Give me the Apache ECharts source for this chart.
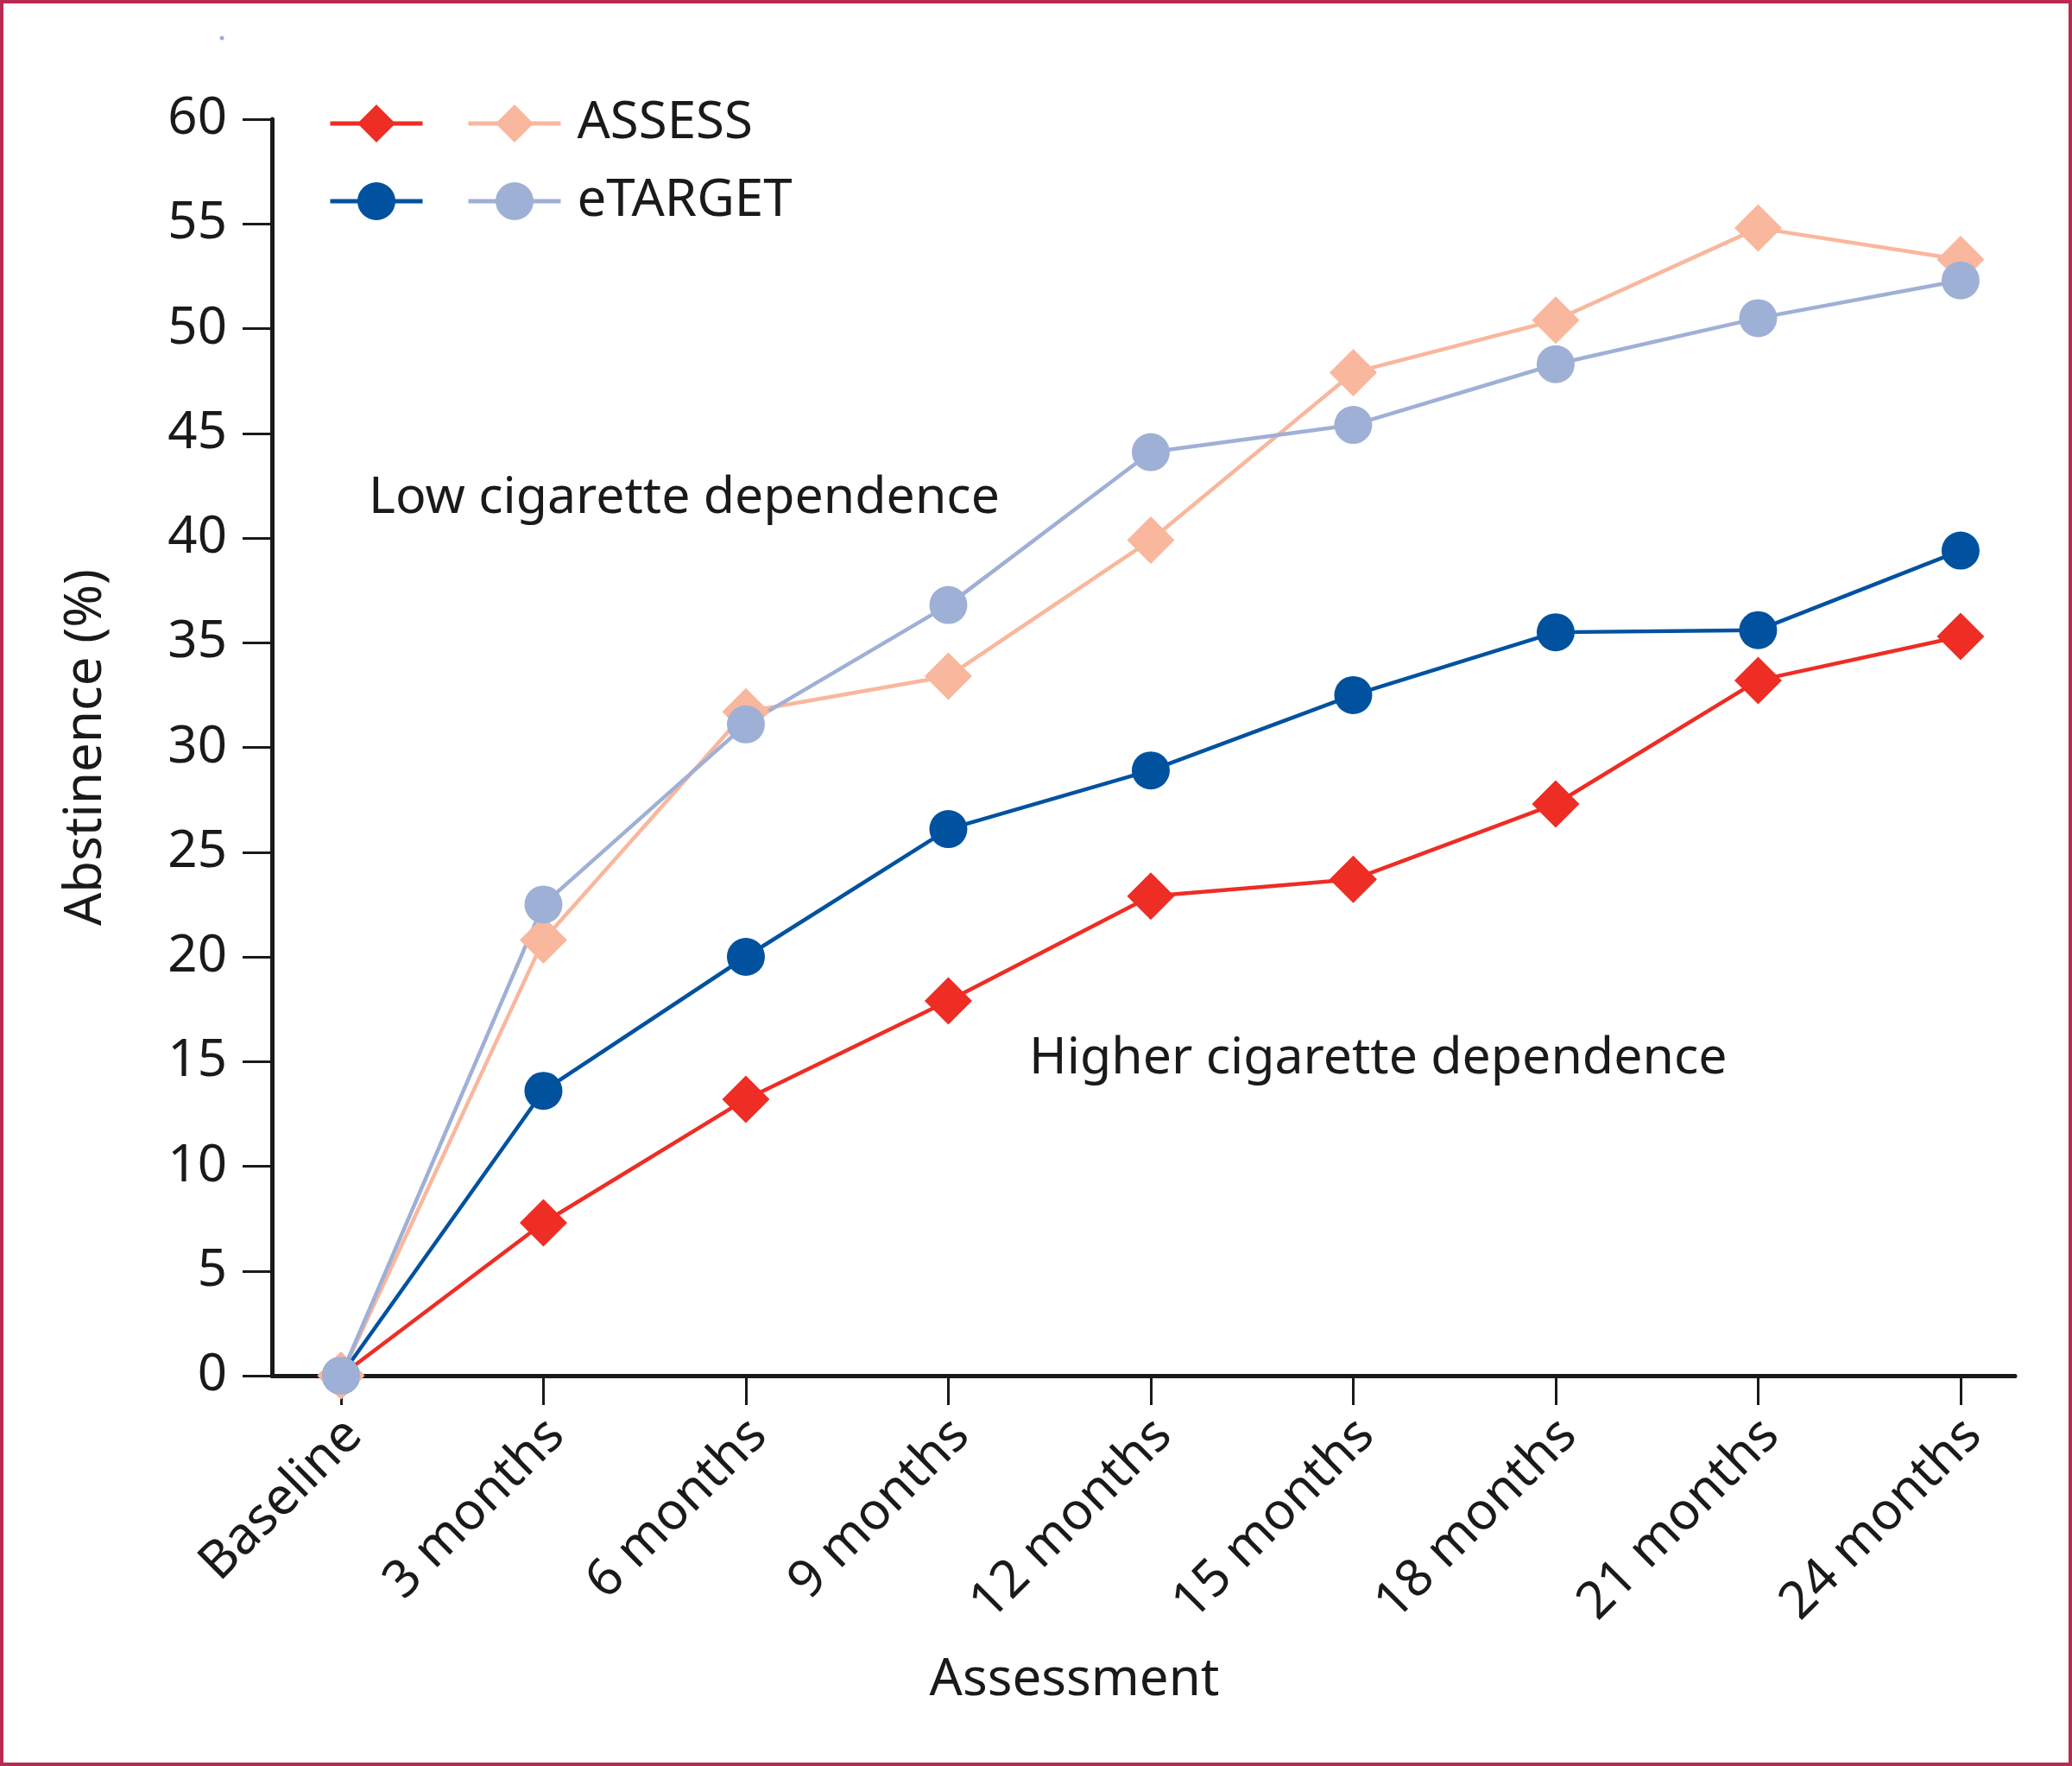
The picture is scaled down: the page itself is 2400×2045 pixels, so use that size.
<!DOCTYPE html>
<html>
<head>
<meta charset="utf-8">
<script src="https://cdn.jsdelivr.net/npm/echarts@6/dist/echarts.min.js"></script>
<style>
  html, body { margin: 0; padding: 0; background: #fff; }
  #wrap { position: relative; width: 2400px; height: 2045px; }
  #chart { position: absolute; left: 0; top: 0; width: 2400px; height: 2045px; }
  #frame { position: absolute; left: 0; top: 0; width: 2400px; height: 2045px; box-sizing: border-box; border: 4px solid #b82a50; pointer-events: none; }
</style>
</head>
<body>
<div id="wrap"><div id="chart"></div><div id="frame"></div></div>
<script>
const categories = ['Baseline', '3 months', '6 months', '9 months', '12 months', '15 months', '18 months', '21 months', '24 months'];
const yTicks = [0, 5, 10, 15, 20, 25, 30, 35, 40, 45, 50, 55, 60];

// Higher cigarette dependence
const assessHigher  = [0, 7.3, 13.2, 17.9, 22.9, 23.7, 27.3, 33.2, 35.3];
const etargetHigher = [0, 13.6, 20.0, 26.1, 28.9, 32.5, 35.5, 35.6, 39.4];
// Low cigarette dependence
const assessLow  = [0, 20.8, 31.7, 33.4, 39.9, 47.9, 50.4, 54.8, 53.3];
const etargetLow = [0, 22.5, 31.1, 36.8, 44.1, 45.4, 48.3, 50.5, 52.3];

const seriesNames = ['ASSESS higher', 'eTARGET higher', 'ASSESS', 'eTARGET'];
const colors = { red: '#ee2d24', darkBlue: '#00529f', peach: '#f9b79d', lightBlue: '#9fb0d6' };
const FONT = '"Noto Sans", "Open Sans", sans-serif';
const INK = '#1a1a1a';

function pts(arr) { return arr.map((v, i) => [i, v]); }
function mkSeries(name, data, color, symbol, size) {
  return {
    name, type: 'line', data: pts(data),
    symbol, symbolSize: size,
    lineStyle: { color, width: 4.5 },
    itemStyle: { color, borderWidth: 0 },
    emphasis: { disabled: true },
    z: 3
  };
}

const legendCommon = {
  orient: 'vertical', top: 113, padding: 0,
  itemWidth: 107, itemHeight: 55, itemGap: 30,
  selectedMode: false,
  lineStyle: { width: 5 },
  itemStyle: { borderWidth: 0 }
};

const chart = echarts.init(document.getElementById('chart'), null, { renderer: 'canvas' });
chart.setOption({
  animation: false,
  backgroundColor: '#ffffff',
  textStyle: { fontFamily: FONT },
  grid: { left: 315, right: 66, top: 138, bottom: 452, containLabel: false },
  xAxis: {
    type: 'value', min: -0.341, max: 8.269,
    name: 'Assessment', nameLocation: 'middle', nameGap: 323,
    nameTextStyle: { fontFamily: FONT, fontSize: 60, color: INK, padding: [0, 160, 0, 0] },
    axisLine: { show: true, onZero: false, lineStyle: { color: INK, width: 5 } },
    axisTick: { show: true, length: 34, customValues: categories.map((c, i) => i), lineStyle: { color: INK, width: 3 } },
    axisLabel: {
      customValues: categories.map((c, i) => i),
      formatter: v => categories[Math.round(v)] || '',
      rotate: 45, margin: 45, verticalAlign: 'top', lineHeight: 42,
      fontFamily: FONT, fontSize: 60, color: INK
    },
    splitLine: { show: false }
  },
  yAxis: {
    type: 'value', min: 0, max: 60, interval: 5,
    name: 'Abstinence (%)', nameLocation: 'middle', nameGap: 185, nameRotate: 90,
    nameTextStyle: { fontFamily: FONT, fontSize: 60, color: INK },
    axisLine: { show: true, onZero: false, lineStyle: { color: INK, width: 5 } },
    axisTick: { show: true, length: 34, lineStyle: { color: INK, width: 3 } },
    axisLabel: { margin: 52, fontFamily: FONT, fontSize: 60, color: INK, formatter: v => yTicks.includes(v) ? String(v) : '' },
    splitLine: { show: false }
  },
  legend: [
    Object.assign({}, legendCommon, {
      data: [seriesNames[0], seriesNames[1]],
      left: 380,
      formatter: () => ' ',
      textStyle: { fontFamily: FONT, fontSize: 60, color: INK }
    }),
    Object.assign({}, legendCommon, {
      data: [seriesNames[2], seriesNames[3]],
      left: 540,
      textStyle: { fontFamily: FONT, fontSize: 60, color: INK, padding: [0, 0, 0, 14] }
    })
  ],
  graphic: [
    { type: 'text', left: 427, top: 590 - 42, style: { text: 'Low cigarette dependence', font: '59px ' + FONT, fill: INK } },
    { type: 'text', left: 1192, top: 1239 - 42, style: { text: 'Higher cigarette dependence', font: '59px ' + FONT, fill: INK } },
    { type: 'circle', shape: { cx: 257, cy: 44, r: 2.5 }, style: { fill: '#9fb0d6' } }
  ],
  series: [
    mkSeries(seriesNames[0], assessHigher, colors.red, 'diamond', 55),
    mkSeries(seriesNames[1], etargetHigher, colors.darkBlue, 'circle', 44),
    mkSeries(seriesNames[2], assessLow, colors.peach, 'diamond', 55),
    mkSeries(seriesNames[3], etargetLow, colors.lightBlue, 'circle', 44)
  ]
});
</script>
</body>
</html>
